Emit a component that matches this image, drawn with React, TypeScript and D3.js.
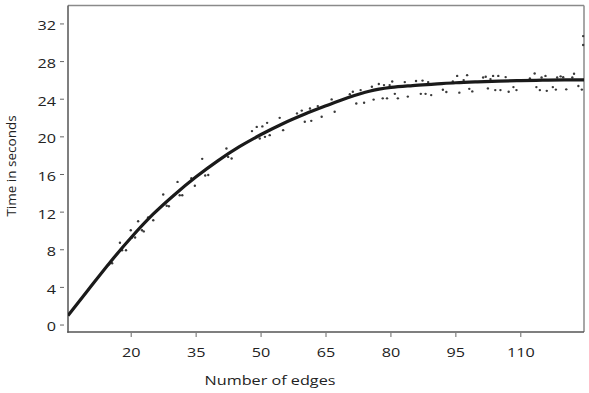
import React, { useRef, useEffect } from 'react';
import * as d3 from 'd3';

// measured timings (edges, seconds)
const pointEdges = [
  14.9, 15.6, 17.4, 17.9, 18.8, 19.9, 20.2, 20.9, 21.6, 22.5, 22.9, 23.9, 25.1, 27.4, 28.2, 28.7,
  30.7, 31.2, 31.8, 33.9, 34.7, 36.4, 37.1, 37.8, 42.0, 42.4, 43.2, 47.9, 49.0, 50.3, 51.4, 49.7,
  50.9, 52.0, 54.3, 55.1, 58.3, 59.4, 60.1, 61.3, 61.6, 63.1, 64.0, 66.3, 67.0, 70.5, 71.2, 72.0,
  73.0, 73.8, 75.6, 76.0, 77.2, 78.1, 78.4, 79.1, 79.7, 80.3, 80.9, 81.6, 83.2, 83.9, 85.8, 87.3,
  86.9, 88.0, 88.6, 89.3, 92.0, 92.8, 94.3, 95.3, 95.8, 96.8, 97.6, 98.1, 98.8, 101.3, 101.9, 102.4,
  103.0, 103.6, 104.1, 104.8, 105.3, 106.5, 107.2, 108.3, 109.0, 112.1, 113.2, 113.6, 114.4, 114.8,
  115.7, 116.0, 117.4, 118.1, 118.4, 119.2, 119.8, 120.5, 121.9, 122.3, 123.3, 124.1, 124.4, 124.4,
];
const pointTimes = [
  6.46, 6.56, 8.74, 7.95, 7.95, 10.07, 9.3, 9.3, 11.03, 10.07, 9.95, 11.43, 11.14, 13.88, 12.68, 12.63,
  15.21, 13.8, 13.8, 15.61, 14.81, 17.66, 15.9, 15.95, 18.77, 17.87, 17.7, 20.61, 21.06, 21.11, 21.49, 19.83,
  20.0, 20.18, 22.02, 20.71, 22.49, 22.79, 21.6, 23.02, 21.7, 23.27, 22.13, 23.98, 22.66, 24.54, 24.79, 23.55,
  24.97, 23.62, 25.32, 23.96, 25.61, 24.09, 25.5, 24.09, 25.5, 25.89, 24.57, 24.09, 25.82, 24.28, 25.93, 25.98,
  24.57, 24.57, 25.82, 24.44, 25.0, 24.76, 25.89, 26.48, 24.7, 26.03, 26.56, 25.1, 24.83, 26.3, 26.38, 25.15,
  26.14, 26.48, 24.97, 26.48, 24.97, 26.35, 24.79, 25.29, 24.97, 26.21, 26.74, 25.29, 24.97, 26.3,
  26.48, 24.89, 25.29, 25.02, 26.3, 26.43, 26.33, 25.05, 26.3, 26.7, 25.41, 25.02, 30.71, 29.76,
];

// fitted trend
const fitEdges = [5.4, 10, 15, 20, 25, 30, 35, 40, 45, 50, 55, 60, 65, 70, 75, 80, 85, 90, 95, 100, 105, 110, 115, 120, 124.6];
const fitTimes = [1.0, 3.7, 6.6, 9.3, 11.75, 13.85, 15.75, 17.45, 18.95, 20.25, 21.4, 22.4, 23.3, 24.15, 24.85, 25.25, 25.45, 25.6, 25.75, 25.85, 25.93, 25.98, 26.02, 26.05, 26.05];

const xTicks = [20, 35, 50, 65, 80, 95, 110];
const yTicks = [0, 4, 8, 12, 16, 20, 24, 28, 32];

const App = () => {
  const svgRef = useRef(null);

  useEffect(() => {
    document.body.style.margin = '0';
    const svg = d3.select(svgRef.current);
    svg.selectAll('*').remove();

    const width = 589;
    const height = 393;
    const margin = { top: 5.5, right: 5, bottom: 61, left: 68 };
    const font = '"Open Sans", sans-serif';
    const stretch = 1.2; // the source image is a bit wide

    svg.attr('width', width).attr('height', height);

    const xScale = d3.scaleLinear()
      .domain([5.4, 124.6])
      .range([margin.left, width - margin.right]);

    const yScale = d3.scaleLinear()
      .domain([-0.74, 33.96])
      .range([height - margin.bottom, margin.top]);

    const x0 = margin.left, x1 = width - margin.right;
    const y0 = height - margin.bottom, y1 = margin.top;

    // frame
    svg.append('line').attr('x1', x0).attr('x2', x1).attr('y1', y1).attr('y2', y1)
      .attr('stroke', '#8a8a8a').attr('stroke-width', 1.5);
    svg.append('line').attr('x1', x1).attr('x2', x1).attr('y1', y1).attr('y2', y0)
      .attr('stroke', '#8a8a8a').attr('stroke-width', 1.5);
    svg.append('line').attr('x1', x0).attr('x2', x0).attr('y1', y1).attr('y2', y0 + 0.75)
      .attr('stroke', '#555').attr('stroke-width', 1.5);
    svg.append('line').attr('x1', x0 - 0.75).attr('x2', x1).attr('y1', y0).attr('y2', y0)
      .attr('stroke', '#555').attr('stroke-width', 1.5);

    // y ticks
    const yg = svg.append('g');
    yg.selectAll('line').data(yTicks).join('line')
      .attr('x1', 60).attr('x2', 64)
      .attr('y1', d => yScale(d)).attr('y2', d => yScale(d))
      .attr('stroke', '#666').attr('stroke-width', 1);
    yg.selectAll('text').data(yTicks).join('text')
      .attr('transform', d => `translate(56, ${yScale(d) + 1}) scale(${stretch}, 1)`)
      .attr('text-anchor', 'end')
      .attr('dominant-baseline', 'central')
      .attr('font-family', font)
      .attr('font-size', 13.5)
      .attr('fill', '#222')
      .text(d => d);

    // x ticks
    const xg = svg.append('g');
    xg.selectAll('line').data(xTicks).join('line')
      .attr('x1', d => xScale(d)).attr('x2', d => xScale(d))
      .attr('y1', y0 + 1).attr('y2', y0 + 5)
      .attr('stroke', '#666').attr('stroke-width', 1);
    xg.selectAll('text').data(xTicks).join('text')
      .attr('transform', d => `translate(${xScale(d)}, 357) scale(${stretch}, 1)`)
      .attr('text-anchor', 'middle')
      .attr('font-family', font)
      .attr('font-size', 13.5)
      .attr('fill', '#222')
      .text(d => d);

    svg.append('clipPath').attr('id', 'plot-clip')
      .append('rect').attr('x', x0).attr('y', y1).attr('width', x1 - x0 + 1).attr('height', y0 - y1);

    // scatter
    svg.append('g')
      .attr('clip-path', 'url(#plot-clip)')
      .selectAll('circle')
      .data(pointEdges.map((e, i) => [e, pointTimes[i]]))
      .join('circle')
      .attr('cx', d => xScale(d[0]))
      .attr('cy', d => yScale(d[1]))
      .attr('r', 1.2)
      .attr('fill', '#3a3a3a');

    // trend line
    const line = d3.line()
      .x(d => xScale(d[0]))
      .y(d => yScale(d[1]))
      .curve(d3.curveMonotoneX);
    svg.append('path')
      .attr('clip-path', 'url(#plot-clip)')
      .datum(fitEdges.map((e, i) => [e, fitTimes[i]]))
      .attr('d', line)
      .attr('fill', 'none')
      .attr('stroke', '#1a1a1a')
      .attr('stroke-width', 3.2);

    // axis titles
    svg.append('text')
      .attr('transform', `translate(270, 385) scale(${stretch}, 1)`)
      .attr('text-anchor', 'middle')
      .attr('font-family', font)
      .attr('font-size', 13.5)
      .attr('fill', '#222')
      .text('Number of edges');

    svg.append('text')
      .attr('transform', 'translate(16, 166) rotate(-90)')
      .attr('text-anchor', 'middle')
      .attr('font-family', font)
      .attr('font-size', 13.5)
      .attr('fill', '#222')
      .text('Time in seconds');
  }, []);

  return (
    <svg ref={svgRef} style={{ display: 'block' }}></svg>
  );
};

export default App;
